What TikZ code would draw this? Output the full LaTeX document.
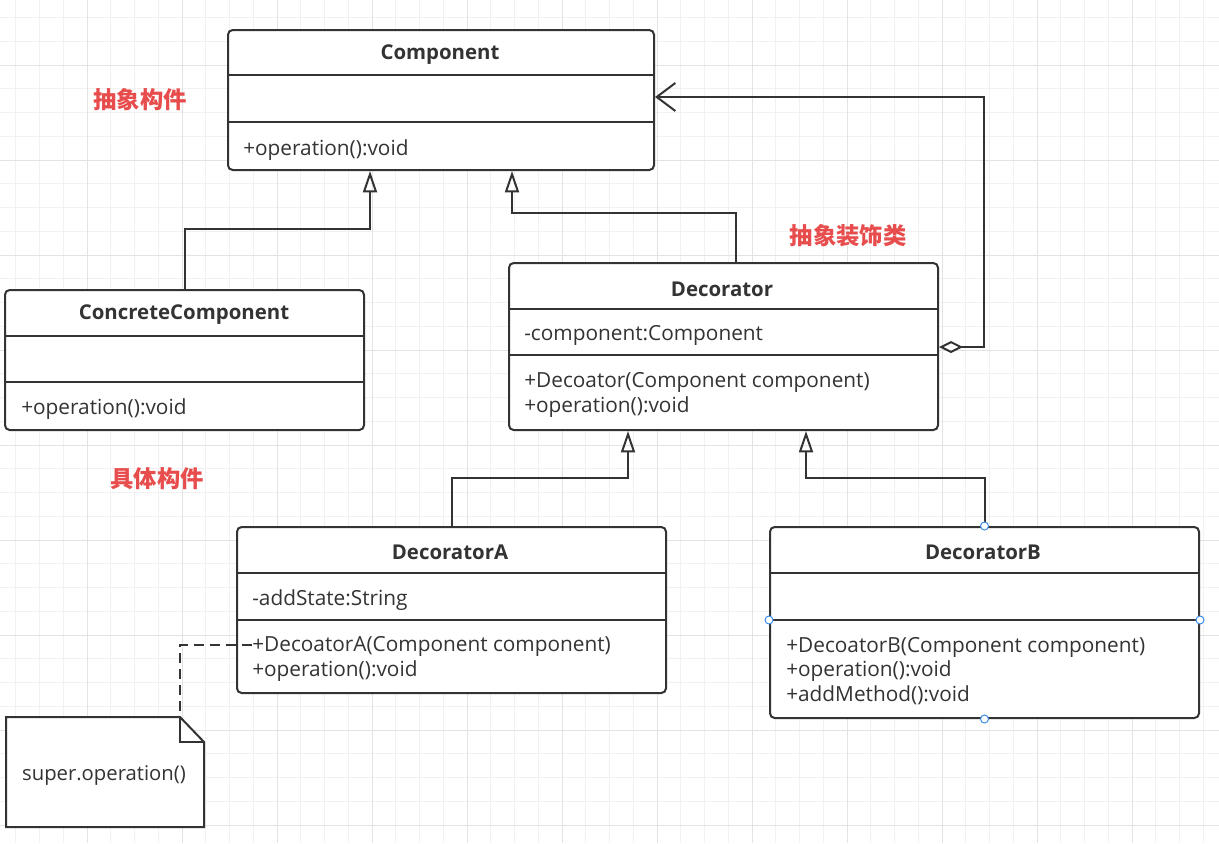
\documentclass[tikz,border=0pt]{standalone}
\usepackage{fontspec}
\setmainfont{Open Sans}
\newfontfamily\cjk{Noto Sans CJK SC}
\usetikzlibrary{arrows.meta,calc}

\definecolor{linec}{HTML}{333333}
\definecolor{labelred}{HTML}{E84D4D}
\definecolor{gridmin}{HTML}{F1F1F1}
\definecolor{gridmaj}{HTML}{E3E3E3}
\definecolor{handle}{HTML}{3C8DEB}

\tikzset{
  boxsize/.style 2 args={minimum width=#1*0.75pt, minimum height=#2*0.75pt},
  classbox/.style={draw=linec, fill=white, line width=1.5pt, rounded corners=3.5pt,
    anchor=north west, inner sep=0pt},
  sepline/.style={draw=linec, line width=1.5pt},
  classname/.style={font=\fontsize{15.3}{18}\selectfont\bfseries, text=linec},
  member/.style={font=\fontsize{15.6}{18.4}\selectfont, text=linec, anchor=west,
    align=left, inner sep=0pt},
  inherit/.style={draw=linec, line width=1.5pt, -{Triangle[open, length=16pt, width=10.5pt]}},
  aggr/.style={draw=linec, line width=1.5pt,
    {Diamond[open, length=18pt, width=9pt]}-{Straight Barb[length=14pt, width=21pt]}},
  notelink/.style={draw=linec, line width=1.5pt, dash pattern=on 7.5pt off 4.5pt},
  redlabel/.style={font=\cjk\fontsize{17.5}{20}\selectfont\bfseries, text=labelred},
  handlec/.style={draw=handle, fill=white, line width=0.75pt},
}

\begin{document}
\begin{tikzpicture}[x=0.75pt, y=-0.75pt]
  \useasboundingbox (0,0) rectangle (1219,843);
  \clip (0,0) rectangle (1219,843);
  \fill[white] (0,0) rectangle (1219,843);

  % background grid
  \foreach \i in {0,...,52} \draw[gridmin, line width=0.75pt] ({-8+23.75*\i},0) -- ++(0,843);
  \foreach \i in {0,...,36} \draw[gridmin, line width=0.75pt] (0,{-6.25+23.75*\i}) -- ++(1219,0);
  \foreach \i in {0,...,13} \draw[gridmaj, line width=0.75pt] ({-8+95*\i},0) -- ++(0,843);
  \foreach \i in {1,...,9} \draw[gridmaj, line width=0.75pt] (0,{-30+95*\i}) -- ++(1219,0);

  % classes
  \node[classbox, boxsize={426}{140}] (comp) at (227,29) {};
  \draw[sepline] (comp.west |- 0,75) -- (comp.east |- 0,75);
  \draw[sepline] (comp.west |- 0,122) -- (comp.east |- 0,122);
  \node[classname] (compname) at (440,55) {Component};
  \node[member] (compops) at (243,150) {+operation():void};

  \node[classbox, boxsize={359}{140}] (concrete) at (4,289) {};
  \draw[sepline] (concrete.west |- 0,336) -- (concrete.east |- 0,336);
  \draw[sepline] (concrete.west |- 0,382) -- (concrete.east |- 0,382);
  \node[classname] (concretename) at (184,315) {ConcreteComponent};
  \node[member] (concreteops) at (21,409) {+operation():void};

  \node[classbox, boxsize={429}{167}] (deco) at (508,262) {};
  \draw[sepline] (deco.west |- 0,309) -- (deco.east |- 0,309);
  \draw[sepline] (deco.west |- 0,355) -- (deco.east |- 0,355);
  \node[classname] (deconame) at (722,289) {Decorator};
  \node[member] (decoattr) at (524,335) {-component:Component};
  \node[member] (decoops) at (524,395) {+Decoator(Component component)\\+operation():void};

  \node[classbox, boxsize={429}{166}] (decoA) at (236,526) {};
  \draw[sepline] (decoA.west |- 0,573) -- (decoA.east |- 0,573);
  \draw[sepline] (decoA.west |- 0,620) -- (decoA.east |- 0,620);
  \node[classname] (decoAname) at (450,552) {DecoratorA};
  \node[member] (decoAattr) at (252,600) {-addState:String};
  \node[member] (decoAops) at (252,659) {+DecoatorA(Component component)\\+operation():void};

  \node[classbox, boxsize={429}{191}] (decoB) at (769,526) {};
  \draw[sepline] (decoB.west |- 0,573) -- (decoB.east |- 0,573);
  \draw[sepline] (decoB.west |- 0,620) -- (decoB.east |- 0,620);
  \node[classname] (decoBname) at (983,552) {DecoratorB};
  \node[member] (decoBops) at (786,671) {+DecoatorB(Component component)\\+operation():void\\+addMethod():void};

  % note
  \draw[draw=linec, fill=white, line width=1.5pt] (6,717) -- (180,717) -- (204,742) -- (204,827) -- (6,827) -- cycle;
  \draw[draw=linec, line width=1.5pt] (180,717) -- (180,742) -- (204,742);
  \coordinate (notefold) at (180,717);
  \node[font=\fontsize{15.2}{17}\selectfont, text=linec] (note) at (104,775) {super.operation()};

  % connectors
  \draw[inherit] (concrete.north) |- (370,229) -- (370,0 |- comp.south);
  \draw[inherit] (736,0 |- deco.north) |- (512,213) -- (512,0 |- comp.south);
  \draw[aggr] (deco.east |- 0,347) -| (984,97) -- (comp.east |- 0,97);
  \draw[inherit] (decoA.north) |- (628,478) -- (628,0 |- deco.south);
  \draw[inherit] (decoB.north) |- (806,478) -- (806,0 |- deco.south);
  \draw[notelink] ($(decoA.west |- 0,645)+(16,0)$) -| (notefold) -- ++(-73,0);

  % selection handles
  \draw[handlec] (decoB.north) circle (3pt);
  \draw[handlec] (decoB.south) circle (3pt);
  \draw[handlec] (decoB.west |- 0,620) circle (3pt);
  \draw[handlec] (decoB.east |- 0,620) circle (3pt);

  % labels
  \node[redlabel] (lblcomp) at (140,100) {抽象构件};
  \node[redlabel] (lbldeco) at (848,236) {抽象装饰类};
  \node[redlabel] (lblconcrete) at (157,479) {具体构件};
\end{tikzpicture}
\end{document}
